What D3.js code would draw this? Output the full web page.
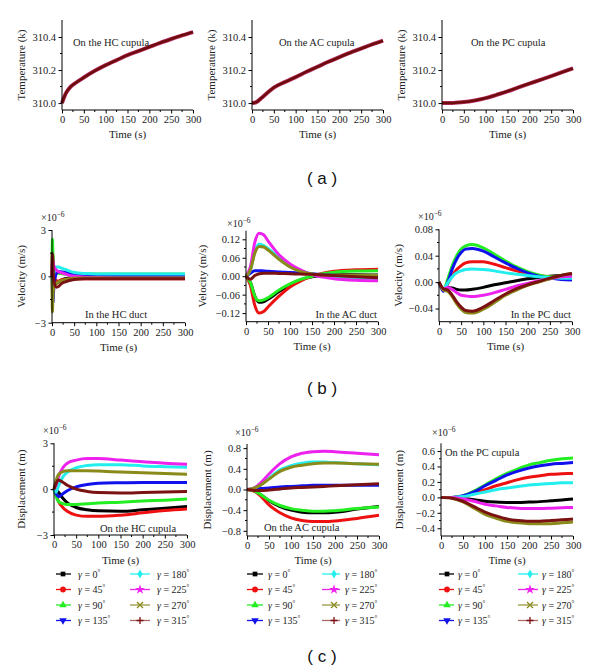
<!DOCTYPE html>
<html><head><meta charset="utf-8">
<script src="https://cdn.jsdelivr.net/npm/d3@7"></script>
<style>body{margin:0;background:#fff}svg{display:block}</style>
</head><body>
<script>
// ---------- DATA ----------
const seriesNames = ["0","45","90","135","180","225","270","315"];
const seriesColors = ["#000000","#ee1111","#22ee22","#1111ee","#22eeee","#ee22ee","#8a8a1a","#7a1212"];
const legendLineColors = ["#000000","#ee1111","#22ee22","#1111ee","#22eeee","#ee22ee","#9a9a40","#b06a6a"];
const xTicks = [0,50,100,150,200,250,300];

// (a) temperature
const timesA = [0,5,10,20,30,50,75,100,125,150,175,200,225,250,275,300];
const tempHC = [310.0,310.037,310.065,310.10,310.12,310.155,310.195,310.23,310.26,310.29,310.315,310.34,310.365,310.388,310.41,310.43];
const tempAC = [310.0,310.002,310.006,310.027,310.05,310.094,310.127,310.157,310.19,310.22,310.25,310.278,310.305,310.33,310.355,310.378];
const tempPC = [310.0,310.0,310.0,310.0,310.002,310.006,310.016,310.03,310.05,310.071,310.095,310.118,310.14,310.163,310.187,310.21];
const tempTicks = [310.0,310.2,310.4];

// (b) velocity x1e-6
const timesB1 = [0,1,2,4,7,10,15,20,30,50,75,100,150,200,300];
const velHC = [
 [0,0.8,0.4,-0.3,-0.5,-0.45,-0.35,-0.25,-0.15,-0.08,-0.06,-0.05,-0.05,-0.05,-0.05],
 [0,1.6,1.2,0.3,-0.2,-0.3,-0.3,-0.25,-0.2,-0.15,-0.15,-0.15,-0.15,-0.15,-0.15],
 [0,2.4,1.5,0.6,0.3,0.25,0.2,0.18,0.15,0.15,0.15,0.15,0.15,0.15,0.15],
 [0,-1.0,-1.7,-0.8,-0.1,0.2,0.3,0.3,0.25,0.15,0.1,0.08,0.05,0.05,0.05],
 [0,-0.5,-0.3,0.2,0.5,0.6,0.6,0.55,0.45,0.25,0.18,0.15,0.15,0.15,0.15],
 [0,1.2,1.0,0.7,0.5,0.4,0.3,0.25,0.15,0.0,-0.05,-0.08,-0.1,-0.1,-0.1],
 [0,-2.3,-1.4,-0.7,-0.5,-0.45,-0.35,-0.3,-0.2,-0.12,-0.1,-0.1,-0.1,-0.1,-0.1],
 [0,1.5,0.8,-0.2,-0.6,-0.7,-0.65,-0.5,-0.35,-0.2,-0.15,-0.15,-0.15,-0.15,-0.15]
];
const velHCTicks = [-3,0,3];

const timesB2 = [0,10,20,30,40,50,75,100,125,150,175,200,250,300];
const velAC = [
 [0,-0.02,-0.065,-0.085,-0.083,-0.075,-0.05,-0.028,-0.012,-0.002,0.003,0.005,0.005,0.004],
 [0,-0.03,-0.095,-0.12,-0.115,-0.1,-0.065,-0.035,-0.015,0.0,0.01,0.016,0.021,0.023],
 [0,-0.02,-0.065,-0.08,-0.077,-0.07,-0.045,-0.025,-0.01,0.0,0.008,0.013,0.017,0.018],
 [0,0.01,0.018,0.018,0.017,0.016,0.014,0.012,0.01,0.008,0.005,0.003,0.001,0.0],
 [0,0.02,0.08,0.105,0.1,0.09,0.06,0.035,0.018,0.007,0.0,-0.004,-0.007,-0.008],
 [0,0.03,0.11,0.14,0.135,0.115,0.07,0.04,0.02,0.005,-0.003,-0.008,-0.013,-0.015],
 [0,0.02,0.075,0.097,0.095,0.085,0.055,0.03,0.015,0.007,0.004,0.003,0.003,0.003],
 [0,-0.01,0.002,0.008,0.01,0.01,0.009,0.008,0.007,0.006,0.004,0.002,-0.002,-0.005]
];
const velACTicks = [-0.12,-0.06,0,0.06,0.12];

const timesB3 = [0,10,20,30,40,50,60,75,100,125,150,175,200,225,250,275,300];
const velPC = [
 [0,-0.01,-0.008,-0.009,-0.011,-0.012,-0.012,-0.011,-0.008,-0.004,-0.001,0.002,0.005,0.007,0.009,0.01,0.011],
 [0,-0.012,-0.002,0.01,0.019,0.025,0.029,0.031,0.031,0.027,0.022,0.017,0.013,0.01,0.008,0.007,0.007],
 [0,-0.012,0.005,0.025,0.04,0.05,0.055,0.057,0.052,0.042,0.032,0.023,0.016,0.011,0.008,0.007,0.007],
 [0,-0.014,0.0,0.02,0.035,0.045,0.05,0.051,0.047,0.038,0.029,0.021,0.014,0.009,0.006,0.004,0.003],
 [0,-0.01,-0.001,0.008,0.014,0.017,0.019,0.02,0.019,0.017,0.014,0.012,0.01,0.008,0.007,0.006,0.006],
 [0,-0.01,-0.008,-0.011,-0.016,-0.02,-0.021,-0.022,-0.02,-0.016,-0.011,-0.006,-0.002,0.002,0.005,0.008,0.009],
 [0,-0.012,-0.014,-0.022,-0.033,-0.041,-0.046,-0.047,-0.041,-0.031,-0.02,-0.012,-0.005,0.0,0.005,0.01,0.013],
 [0,-0.01,-0.012,-0.02,-0.03,-0.038,-0.043,-0.044,-0.038,-0.028,-0.018,-0.01,-0.004,0.001,0.006,0.01,0.013]
];
const velPCTicks = [-0.04,0,0.04,0.08];

// (c) displacement x1e-6
const timesC1 = [0,5,10,20,30,50,75,100,150,200,250,300];
const dispHC = [
 [0,-0.05,-0.2,-0.6,-0.9,-1.2,-1.35,-1.42,-1.45,-1.35,-1.25,-1.13],
 [0,-0.4,-0.8,-1.2,-1.45,-1.7,-1.78,-1.78,-1.7,-1.55,-1.4,-1.3],
 [0,-0.5,-0.8,-0.95,-1.0,-1.0,-0.95,-0.9,-0.85,-0.78,-0.72,-0.65],
 [0,-0.3,-0.5,-0.3,-0.1,0.15,0.3,0.38,0.42,0.44,0.44,0.43],
 [0,-0.2,0.2,0.8,1.1,1.4,1.55,1.6,1.6,1.52,1.47,1.43],
 [0,0.3,0.8,1.4,1.7,1.9,2.0,2.0,1.9,1.8,1.7,1.63],
 [0,0.6,0.95,1.15,1.2,1.2,1.2,1.18,1.12,1.07,1.02,0.98],
 [0,0.4,0.6,0.45,0.25,0.0,-0.15,-0.22,-0.25,-0.22,-0.18,-0.15]
];
const dispHCTicks = [-3,0,3];

const timesC2 = [0,10,20,30,50,75,100,125,150,175,200,250,300];
const dispAC = [
 [0,-0.01,-0.04,-0.09,-0.22,-0.33,-0.4,-0.44,-0.45,-0.45,-0.44,-0.38,-0.33],
 [0,-0.01,-0.05,-0.12,-0.3,-0.45,-0.55,-0.6,-0.62,-0.62,-0.61,-0.56,-0.5],
 [0,-0.01,-0.04,-0.09,-0.21,-0.31,-0.37,-0.4,-0.42,-0.42,-0.41,-0.37,-0.34],
 [0,0.0,0.01,0.02,0.03,0.05,0.06,0.07,0.08,0.08,0.08,0.08,0.08],
 [0,0.01,0.04,0.09,0.22,0.38,0.46,0.51,0.53,0.53,0.52,0.5,0.48],
 [0,0.01,0.05,0.12,0.3,0.5,0.63,0.7,0.73,0.74,0.73,0.7,0.67],
 [0,0.01,0.04,0.08,0.2,0.35,0.43,0.47,0.5,0.51,0.51,0.5,0.49],
 [0,-0.01,-0.02,-0.02,-0.01,0.01,0.03,0.04,0.05,0.06,0.07,0.09,0.11]
];
const dispACTicks = [-0.8,-0.4,0,0.4,0.8];

const timesC3 = [0,25,50,75,100,125,150,175,200,225,250,275,300];
const dispPC = [
 [0,0.0,-0.01,-0.03,-0.05,-0.06,-0.065,-0.065,-0.06,-0.055,-0.045,-0.035,-0.022],
 [0,0.0,0.01,0.05,0.1,0.15,0.19,0.23,0.26,0.28,0.3,0.305,0.31],
 [0,0.0,0.02,0.08,0.16,0.24,0.31,0.37,0.42,0.45,0.48,0.5,0.51],
 [0,0.0,0.02,0.07,0.15,0.22,0.29,0.34,0.38,0.41,0.43,0.44,0.45],
 [0,0.0,0.01,0.04,0.07,0.1,0.12,0.14,0.16,0.17,0.18,0.19,0.19],
 [0,0.0,-0.02,-0.05,-0.09,-0.11,-0.13,-0.14,-0.145,-0.145,-0.14,-0.135,-0.13],
 [0,-0.01,-0.06,-0.14,-0.22,-0.27,-0.31,-0.33,-0.34,-0.34,-0.34,-0.33,-0.32],
 [0,-0.01,-0.05,-0.12,-0.19,-0.24,-0.28,-0.3,-0.31,-0.31,-0.3,-0.29,-0.28]
];
const dispPCTicks = [-0.4,-0.2,0,0.2,0.4,0.6];

// ---------- DRAW ----------
const W = 600, H = 670;
const svg = d3.select("body").append("svg").attr("width", W).attr("height", H);
const SERIF = "'Liberation Serif','DejaVu Serif',serif";

function panel(o) {
  const x = d3.scaleLinear().domain([0,300]).range([o.x0, o.x1]);
  const y = d3.scaleLinear().domain(o.ydom).range([o.yb, o.yt]);
  const g = svg.append("g");
  const line = d3.line().x(d => x(d[0])).y(d => y(d[1])).curve(d3.curveMonotoneX);

  o.series.forEach((s, i) => {
    const pts = o.times.map((t, k) => [t, s[k]]);
    if (o.temp) {
      g.append("path").attr("d", line(pts)).attr("fill","none")
        .attr("stroke","#b8306a").attr("stroke-width",4);
      g.append("path").attr("d", line(pts)).attr("fill","none")
        .attr("stroke","#6e0c0c").attr("stroke-width",2.6);
    } else {
      g.append("path").attr("d", line(pts)).attr("fill","none")
        .attr("stroke", seriesColors[i]).attr("stroke-width", 3)
        .attr("stroke-linejoin","round");
    }
  });

  const minorX = d3.range(25, 300, 50);
  const xa = g.append("g").attr("transform", `translate(0,${o.yb})`)
    .call(d3.axisBottom(x).tickValues(xTicks).tickSize(3.5).tickPadding(2.5).tickFormat(d3.format("d")));
  xa.selectAll("text").attr("font-family", SERIF).attr("font-size", 10.5).attr("fill","#222");
  xa.select(".domain").attr("d", `M${o.x0},0H${o.x1}`);
  xa.selectAll(".minor").data(minorX).enter().append("line")
    .attr("x1", d => x(d)).attr("x2", d => x(d)).attr("y1",0).attr("y2",2).attr("stroke","#000");

  const ya = g.append("g").attr("transform", `translate(${o.x0},0)`)
    .call(d3.axisLeft(y).tickValues(o.ticks).tickSize(3.5).tickPadding(2.5).tickFormat(d3.format(o.fmt)));
  ya.selectAll("text").attr("font-family", SERIF).attr("font-size", 10.5).attr("fill","#222");
  ya.select(".domain").attr("d", `M0,${o.yt}V${o.yb}`);
  ya.selectAll(".minor").data(o.minor).enter().append("line")
    .attr("y1", d => y(d)).attr("y2", d => y(d)).attr("x1",0).attr("x2",-2).attr("stroke","#000");

  g.append("text").attr("x", (o.x0+o.x1)/2).attr("y", o.yb + o.xtdy)
    .attr("text-anchor","middle").attr("font-family",SERIF).attr("font-size",11).attr("fill","#222")
    .text("Time (s)");
  g.append("text").attr("transform", `translate(${o.ylx},${(o.yt+o.yb)/2}) rotate(-90)`)
    .attr("text-anchor","middle").attr("font-family",SERIF).attr("font-size",11).attr("fill","#222")
    .text(o.ylab);

  if (o.mult) {
    const t = g.append("text").attr("x", o.mult[0]).attr("y", o.mult[1])
      .attr("font-family",SERIF).attr("font-size",10).attr("fill","#222");
    t.append("tspan").text("×10");
    t.append("tspan").attr("dy",-4).attr("font-size",7.5).text("−6");
  }
  g.append("text").attr("x", o.note[0]).attr("y", o.note[1]).attr("text-anchor", o.note[2] || "start")
    .attr("font-family",SERIF).attr("font-size",10.5).attr("fill","#222").text(o.noteText);

  if (o.legend) drawLegend(o.legend);
}

function markerPath(i) {
  switch (i) {
    case 0: return d3.symbol(d3.symbolSquare, 22)();
    case 1: return d3.symbol(d3.symbolCircle, 26)();
    case 2: return d3.symbol(d3.symbolTriangle, 24)();
    case 3: return d3.symbol(d3.symbolTriangle, 24)();
    case 4: return d3.symbol(d3.symbolDiamond, 24)();
    case 5: return d3.symbol(d3.symbolStar, 30)();
    case 6: return `M-3,-3L3,3M-3,3L3,-3`;
    case 7: return `M-3.5,0H3.5M0,-3.5V3.5`;
  }
}

function drawLegend(L) {
  const g = svg.append("g");
  seriesNames.forEach((nm, i) => {
    const col = i < 4 ? 0 : 1, row = i % 4;
    const c = L.cols[col];
    const yy = L.y0 + row * L.dy;
    g.append("line").attr("x1", c.l0).attr("x2", c.l1).attr("y1", yy).attr("y2", yy)
      .attr("stroke", legendLineColors[i]).attr("stroke-width", 1.3);
    const m = g.append("path").attr("d", markerPath(i))
      .attr("transform", `translate(${c.m},${yy})` + (i === 3 ? " rotate(180)" : ""));
    if (i >= 6) m.attr("fill","none").attr("stroke", seriesColors[i]).attr("stroke-width",1.3);
    else m.attr("fill", seriesColors[i]);
    const t = g.append("text").attr("x", c.t).attr("y", yy + 3.5)
      .attr("font-family",SERIF).attr("font-size",10).attr("fill","#222");
    t.append("tspan").attr("font-style","italic").text("γ");
    t.append("tspan").text(" = " + nm);
    t.append("tspan").attr("dy",-4).attr("font-size",7).text("°");
  });
}

const minorA = [310.1, 310.3];
// Row (a)
panel({x0:62,x1:193,yt:20,yb:110,ydom:[309.958,310.503],times:timesA,series:[tempHC],temp:true,
  ticks:tempTicks,fmt:".1f",minor:minorA,xtdy:28,ylx:25,ylab:"Temperature (k)",
  note:[73,46],noteText:"On the HC cupula"});
panel({x0:252,x1:383,yt:20,yb:110,ydom:[309.958,310.503],times:timesA,series:[tempAC],temp:true,
  ticks:tempTicks,fmt:".1f",minor:minorA,xtdy:28,ylx:215,ylab:"Temperature (k)",
  note:[279,46],noteText:"On the AC cupula"});
panel({x0:442,x1:573,yt:20,yb:110,ydom:[309.958,310.503],times:timesA,series:[tempPC],temp:true,
  ticks:tempTicks,fmt:".1f",minor:minorA,xtdy:28,ylx:405,ylab:"Temperature (k)",
  note:[471,46],noteText:"On the PC cupula"});

// Row (b)
panel({x0:52,x1:185,yt:230,yb:322.7,ydom:[-3,3],times:timesB1,series:velHC,
  ticks:velHCTicks,fmt:"d",minor:[-1.5,1.5],xtdy:28,ylx:25,ylab:"Velocity (m/s)",
  mult:[41,221],note:[85,317.5],noteText:"In the HC duct"});
panel({x0:246,x1:378,yt:230.7,yb:321.7,ydom:[-0.148,0.148],times:timesB2,series:velAC,
  ticks:velACTicks,fmt:".2f",minor:[-0.09,-0.03,0.03,0.09],xtdy:28,ylx:206,ylab:"Velocity (m/s)",
  mult:[227,227],note:[377,317.5,"end"],noteText:"In the AC duct"});
panel({x0:439,x1:572,yt:229.3,yb:321.7,ydom:[-0.06,0.08],times:timesB3,series:velPC,
  ticks:velPCTicks,fmt:".2f",minor:[-0.02,0.02,0.06],xtdy:28,ylx:402,ylab:"Velocity (m/s)",
  mult:[418,220],note:[571,317.5,"end"],noteText:"In the PC duct"});

// Row (c)
panel({x0:54,x1:187,yt:443.3,yb:535,ydom:[-3,3],times:timesC1,series:dispHC,
  ticks:dispHCTicks,fmt:"d",minor:[-1.5,1.5],xtdy:29,ylx:25,ylab:"Displacement (m)",
  mult:[43,434],note:[100,532],noteText:"On the HC cupula",
  legend:{y0:574,dy:15.5,cols:[{l0:56,l1:71,m:63,t:78},{l0:130,l1:150,m:140,t:157}]}});
panel({x0:247,x1:379,yt:444,yb:536,ydom:[-0.9,0.88],times:timesC2,series:dispAC,
  ticks:dispACTicks,fmt:".1f",minor:[-0.6,-0.2,0.2,0.6],xtdy:28,ylx:211,ylab:"Displacement (m)",
  mult:[235,436],note:[264,531],noteText:"On the AC cupula",
  legend:{y0:574,dy:15.5,cols:[{l0:247,l1:263,m:255,t:268},{l0:322,l1:340,m:334,t:345}]}});
panel({x0:441,x1:573,yt:443.3,yb:536,ydom:[-0.5,0.7],times:timesC3,series:dispPC,
  ticks:dispPCTicks,fmt:".1f",minor:[-0.3,-0.1,0.1,0.3,0.5],xtdy:28,ylx:403,ylab:"Displacement (m)",
  mult:[432,436],note:[445,456],noteText:"On the PC cupula",
  legend:{y0:574,dy:15.5,cols:[{l0:439,l1:454,m:447,t:458},{l0:518,l1:538,m:530,t:542}]}});

// panel labels
[["( a )",184],["( b )",394],["( c )",662]].forEach(([t,yy]) => {
  svg.append("text").attr("x",322).attr("y",yy).attr("text-anchor","middle")
    .attr("font-family","'Liberation Sans',Arial,sans-serif").attr("font-size",17).attr("fill","#111")
    .text(t);
});
</script>
</body></html>
